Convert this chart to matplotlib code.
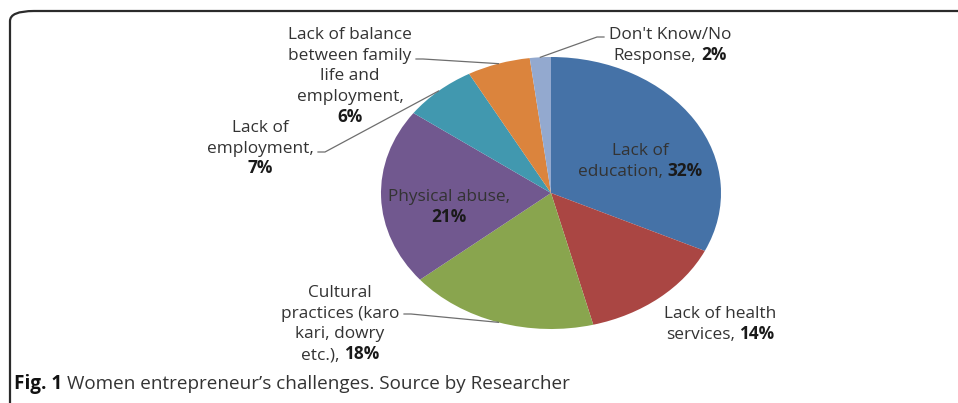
import numpy as np
import matplotlib.pyplot as plt
from matplotlib.patches import FancyBboxPatch
from matplotlib.lines import Line2D

plt.rcParams['font.family'] = ['Open Sans', 'DejaVu Sans']

W, H = 958, 403

# --- data (clockwise from 12 o'clock) ---
names = ['Lack of\neducation,', 'Lack of health\nservices,',
         'Cultural\npractices (karo\nkari, dowry\netc.),', 'Physical abuse,',
         'Lack of\nemployment,', 'Lack of balance\nbetween family\nlife and\nemployment,',
         "Don't Know/No\nResponse,"]
shares = [32, 14, 18, 21, 7, 6, 2]
colours = ['#4572A7', '#AA4643', '#89A54E', '#71588F', '#4198AF', '#DB843D', '#93A9CF']
pct_own_line = [False, False, False, True, True, True, False]

# label layout in pixels from top-left: centre x, first line y
label_pos = [(640, 150), (720, 313), (340, 292), (449, 196), (260, 127), (350, 34), (670, 34)]
# leader line start (pixels) and direction of the small horizontal tick
leader_from = [None, None, (404, 314, 1), None, (318, 152, 1), (416, 59, 1), (604, 37, -1)]

line_step = 20.6
fsize = 12.4
txt_col = '#333333'

fig = plt.figure(figsize=(W / 100, H / 100), dpi=100)
renderer = fig.canvas.get_renderer()


def px(x, y):
    return x / W, 1 - y / H


def text_width(s, **kw):
    t = fig.text(0, 0, s, **kw)
    w = t.get_window_extent(renderer).width
    t.remove()
    return w


def rich_line(x0, yc, parts, size, ha='center'):
    widths = [text_width(s, fontsize=size, fontweight=wt) for s, wt, c in parts]
    gap = text_width('x x', fontsize=size) - text_width('xx', fontsize=size)
    total = sum(widths) + gap * (len(parts) - 1)
    x = x0 - total / 2 if ha == 'center' else x0
    for (s, wt, c), w in zip(parts, widths):
        fig.text(*px(x, yc + size * 0.42), s, fontsize=size, fontweight=wt,
                 color=c, ha='left', va='baseline')
        x += w + gap


# frame round the figure
frame = FancyBboxPatch((10 / W, -0.2), 1.2, 1.2 - 11 / H,
                       boxstyle='round,pad=0,rounding_size=0.025',
                       transform=fig.transFigure, facecolor='none',
                       edgecolor='#2b2b2b', linewidth=1.6)
fig.add_artist(frame)

# pie, squashed to an ellipse like the original
cx, cy, rx, ry = 551, 193, 170, 136
ax = fig.add_axes([(cx - rx) / W, (H - cy - ry) / H, 2 * rx / W, 2 * ry / H])
ax.pie(shares, colors=colours, startangle=90, counterclock=False,
       wedgeprops=dict(linewidth=0))
ax.set_aspect('auto')
ax.set_xlim(-1, 1)
ax.set_ylim(-1, 1)
ax.axis('off')

# labels
for name, v, own, (lx, ly) in zip(names, shares, pct_own_line, label_pos):
    lines = name.split('\n')
    pct = f'{v}%'
    for i, ln in enumerate(lines):
        y = ly + i * line_step
        if i == len(lines) - 1 and not own:
            rich_line(lx, y, [(ln, 'normal', txt_col), (pct, 'bold', '#1a1a1a')], fsize)
        else:
            rich_line(lx, y, [(ln, 'normal', txt_col)], fsize)
    if own:
        rich_line(lx, ly + len(lines) * line_step, [(pct, 'bold', '#1a1a1a')], fsize)

# leader lines to the middle of each wedge edge
start = 0
inv = fig.transFigure.inverted()
for v, lf in zip(shares, leader_from):
    mid = np.deg2rad(90 - 3.6 * (start + v / 2))
    start += v
    if lf is None:
        continue
    ex, ey = inv.transform(ax.transData.transform((np.cos(mid), np.sin(mid))))
    sx, sy = px(lf[0], lf[1])
    tx = sx + lf[2] * 7 / W
    fig.add_artist(Line2D([sx, tx, ex], [sy, sy, ey], transform=fig.transFigure,
                          color='#6e6e6e', linewidth=0.9))

# caption
rich_line(14, 383, [('Fig. 1', 'bold', '#111111'),
                    ('Women entrepreneur\u2019s challenges. Source by Researcher',
                     'normal', '#333333')], 13.6, ha='left')

fig.savefig('out.png', dpi=100)
